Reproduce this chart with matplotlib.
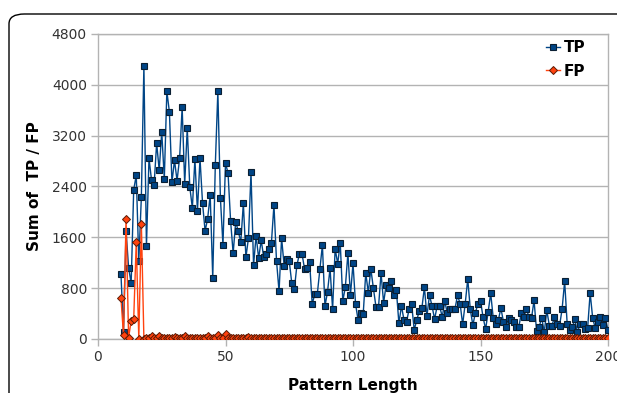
import matplotlib
matplotlib.use("Agg")
import matplotlib.pyplot as plt
from matplotlib.patches import FancyBboxPatch

plt.rcParams['font.family'] = ['DejaVu Sans']

# ---- data ----
tp_start = 9
tp_values = [
    1023, 115, 1700, 1122, 876, 2345, 2580, 1228, 2230, 4300,       # 9-18
    1459, 2844, 2497, 2424, 3085, 2655, 3258, 2518, 3899, 3573,     # 19-28
    2466, 2812, 2492, 2844, 3647, 2440, 3316, 2392, 2062, 2828,     # 29-38
    2015, 2844, 2136, 1700, 1894, 2267, 960, 2734, 3899, 2219,      # 39-48
    1480, 2770, 2608, 1857, 1349, 1846, 1695, 1527, 2136, 1286,     # 49-58
    1585, 2624, 1160, 1626, 1270, 1553, 1286, 1343, 1421, 1511,     # 59-68
    2109, 1232, 750, 1590, 1149, 1264, 1223, 877, 782, 1160,        # 69-78
    1343, 1343, 1102, 1113, 1207, 546, 708, 708, 1097, 1480,        # 79-88
    515, 740, 1113, 467, 1421, 1185, 1511, 598, 818, 1349,          # 89-98
    688, 1192, 551, 299, 404, 393, 1039, 729, 1102, 798,            # 99-108
    508, 499, 1039, 571, 850, 803, 913, 688, 771, 247,              # 109-118
    519, 299, 268, 472, 546, 142, 299, 441, 483, 814,               # 119-128
    362, 693, 515, 315, 515, 515, 346, 593, 404, 467,               # 129-138
    467, 477, 688, 556, 231, 556, 944, 467, 216, 414,               # 139-148
    556, 598, 346, 153, 425, 719, 326, 231, 300, 483,               # 149-158
    272, 184, 326, 299, 272, 184, 184, 404, 351, 467,               # 159-168
    351, 326, 609, 121, 189, 336, 105, 451, 210, 210,               # 169-178
    341, 236, 205, 472, 908, 231, 137, 184, 310, 105,               # 179-188
    231, 231, 153, 168, 724, 326, 173, 272, 341, 226,               # 189-198
    326, 137,                                                       # 199-200
]
fp_start = 9
fp_values = [
    650, 60, 1890, 20, 288, 315, 1522, 5, 1815, 0,                  # 9-18
    10, 20, 47, 15, 10, 40, 12, 8, 20, 15,                          # 19-28
    10, 25, 12, 8, 15, 50, 10, 12, 8, 20,                           # 29-38
    10, 15, 8, 12, 40, 10, 15, 20, 63, 10,                          # 39-48
    15, 74, 10, 8, 12, 10, 15, 8, 10, 12,                           # 49-58
    27, 8, 10, 12, 8, 10, 12, 8, 10, 8,                             # 59-68
    10, 8, 12, 8, 10, 8, 12, 8, 10, 8,                              # 69-78
    10, 8, 12, 8, 10, 8, 12, 8, 10, 8,                              # 79-88
    10, 8, 12, 8, 10, 8, 12, 8, 10, 8,                              # 89-98
    10, 8, 12, 8, 10, 8, 12, 8, 10, 8,                              # 99-108
    10, 8, 12, 8, 10, 8, 12, 8, 10, 8,                              # 109-118
    10, 8, 12, 8, 10, 8, 12, 8, 10, 8,                              # 119-128
    10, 8, 12, 8, 10, 8, 12, 8, 10, 8,                              # 129-138
    10, 8, 12, 8, 10, 8, 12, 8, 10, 8,                              # 139-148
    10, 8, 12, 8, 10, 8, 12, 8, 10, 8,                              # 149-158
    10, 8, 12, 8, 10, 8, 12, 8, 10, 8,                              # 159-168
    10, 8, 12, 8, 10, 8, 12, 8, 10, 8,                              # 169-178
    10, 8, 12, 8, 10, 8, 12, 8, 10, 8,                              # 179-188
    10, 8, 12, 8, 10, 8, 12, 8, 10, 8,                              # 189-198
    10, 12,                                                         # 199-200
]
x_ticks = [0, 50, 100, 150, 200]
y_ticks = [0, 800, 1600, 2400, 3200, 4000, 4800]
series_names = ["TP", "FP"]
x_label = "Pattern Length"
y_label = "Sum of  TP / FP"

tp_x = list(range(tp_start, tp_start + len(tp_values)))
fp_x = list(range(fp_start, fp_start + len(fp_values)))

# ---- figure ----
W, H = 617, 393
fig = plt.figure(figsize=(W / 100, H / 100), dpi=100)

# outer rounded frame (extends past right/bottom edges)
frame = FancyBboxPatch((9 / W, -0.2), 1.2, (1 - 14 / H) + 0.2,
                       boxstyle="round,pad=0,rounding_size=0.025",
                       transform=fig.transFigure, fill=False,
                       edgecolor="black", linewidth=1.0, clip_on=False)
fig.patches.append(frame)

ax = fig.add_axes([98 / W, 1 - 339 / H, (608 - 98) / W, (339 - 34) / H])

blue = "#004586"
orange = "#ff420e"

ax.plot(tp_x, tp_values, color=blue, linewidth=1.0, marker="s",
        markersize=4.3, markerfacecolor=blue, markeredgecolor="#0a1f33",
        markeredgewidth=0.8, label=series_names[0], zorder=3)
ax.plot(fp_x, fp_values, color=orange, linewidth=1.0, marker="D",
        markersize=4.2, markerfacecolor=orange, markeredgecolor="#5a1a05",
        markeredgewidth=0.7, label=series_names[1], zorder=4)

ax.set_xlim(0, 200)
ax.set_ylim(0, 4800)
ax.set_xticks(x_ticks)
ax.set_yticks(y_ticks)
ax.set_xticklabels([str(v) for v in x_ticks], fontsize=10)
ax.set_yticklabels([str(v) for v in y_ticks], fontsize=10)
ax.grid(True, axis="y", color="#b3b3b3", linewidth=1.0)
ax.set_axisbelow(True)
for s in ax.spines.values():
    s.set_color("#b3b3b3")
    s.set_linewidth(1.0)
ax.tick_params(axis="both", colors="#b3b3b3", labelcolor="#333333",
               length=5, width=1.0, direction="out", pad=3)

ax.set_xlabel(x_label, fontsize=11, fontweight="bold", labelpad=10)
ax.set_ylabel(y_label, fontsize=11, fontweight="bold", labelpad=7)

leg = ax.legend(loc="upper right", frameon=False, fontsize=11,
                handlelength=0.9, handletextpad=0.25, labelspacing=0.55,
                borderaxespad=0.3, bbox_to_anchor=(0.976, 1.015))
for t in leg.get_texts():
    t.set_fontweight("bold")

fig.savefig("out.png", dpi=100)
